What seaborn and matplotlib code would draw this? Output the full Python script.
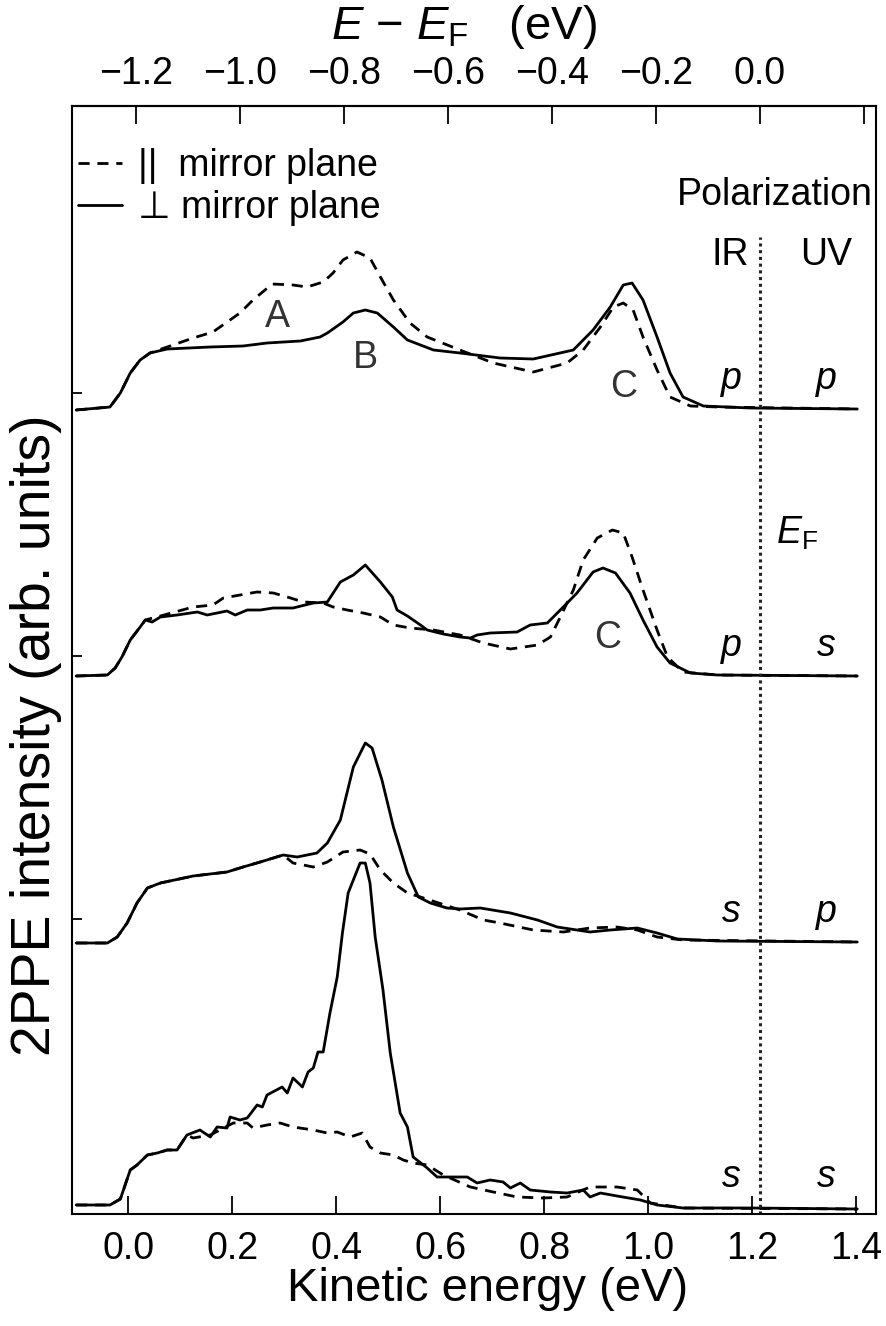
import numpy as np
import matplotlib
matplotlib.use("Agg")
import matplotlib.pyplot as plt
import seaborn as sns
from matplotlib.lines import Line2D

# ---------------- data (kinetic energy in eV, intensity in arb. units) ----------------
EF = 1.215  # kinetic energy of the Fermi level

# spectrum 1: IR p / UV p
pp_perp_x = [-0.100,-0.035,-0.015,0.004,0.023,0.042,0.075,0.158,0.221,0.267,0.331,0.369,0.383,0.413,0.433,
             0.456,0.479,0.510,0.537,0.587,0.638,0.715,0.779,0.856,0.894,0.927,0.952,0.969,0.990,1.017,
             1.042,1.067,1.106,1.196,1.402]
pp_perp_y = [-0.01,0.02,0.16,0.36,0.49,0.56,0.60,0.62,0.63,0.66,0.68,0.72,0.76,0.87,0.96,
             0.99,0.96,0.82,0.69,0.59,0.56,0.51,0.50,0.59,0.79,1.02,1.24,1.26,1.09,0.72,
             0.36,0.12,0.03,0.01,0.00]
pp_par_x = [-0.100,-0.035,-0.015,0.004,0.023,0.042,0.075,0.125,0.163,0.215,0.240,0.277,0.317,0.344,0.375,
            0.394,0.413,0.440,0.465,0.485,0.510,0.542,0.575,0.638,0.702,0.779,0.844,0.875,0.908,0.933,
            0.952,0.971,0.990,1.017,1.042,1.081,1.133,1.402]
pp_par_y = [-0.01,0.02,0.16,0.36,0.49,0.56,0.62,0.71,0.77,0.96,1.09,1.25,1.24,1.22,1.27,
            1.36,1.49,1.57,1.51,1.32,1.09,0.86,0.72,0.59,0.46,0.37,0.46,0.59,0.82,1.02,
            1.06,0.99,0.72,0.39,0.12,0.03,0.02,0.00]

# spectrum 2: IR p / UV s
ps_perp_x = [-0.100,-0.040,-0.025,-0.012,0.004,0.023,0.033,0.046,0.062,0.094,0.133,0.152,0.190,0.206,0.229,
             0.254,0.279,0.317,0.356,0.383,0.408,0.433,0.456,0.485,0.508,0.517,0.537,0.562,0.575,0.606,
             0.638,0.658,0.671,0.696,0.748,0.773,0.806,0.831,0.863,0.894,0.913,0.937,0.965,0.990,1.017,
             1.042,1.081,1.133,1.402]
ps_perp_y = [0.00,0.01,0.08,0.19,0.36,0.49,0.56,0.54,0.59,0.61,0.64,0.61,0.65,0.61,0.66,
             0.66,0.68,0.68,0.73,0.74,0.94,1.01,1.11,0.94,0.79,0.66,0.60,0.51,0.46,0.42,
             0.39,0.38,0.41,0.43,0.44,0.51,0.53,0.66,0.83,1.04,1.08,1.03,0.83,0.56,0.29,
             0.13,0.03,0.01,0.00]
ps_par_x = [-0.100,-0.040,-0.025,-0.012,0.004,0.023,0.033,0.062,0.125,0.163,0.183,0.215,0.248,0.279,0.306,
            0.337,0.375,0.394,0.421,0.452,0.485,0.510,0.542,0.587,0.638,0.683,0.735,0.787,0.812,0.831,
            0.856,0.875,0.902,0.931,0.952,0.969,0.990,1.017,1.037,1.067,1.133,1.402]
ps_par_y = [0.00,0.01,0.08,0.19,0.36,0.49,0.56,0.60,0.69,0.71,0.78,0.81,0.84,0.83,0.79,
            0.74,0.73,0.69,0.66,0.63,0.59,0.51,0.48,0.46,0.41,0.33,0.27,0.31,0.39,0.59,
            0.86,1.16,1.38,1.46,1.43,1.19,0.86,0.46,0.19,0.04,0.01,0.00]

# spectrum 3: IR s / UV p
sp_perp_x = [-0.100,-0.040,-0.021,-0.002,0.017,0.037,0.062,0.125,0.190,0.221,0.254,0.298,0.325,0.363,0.383,
             0.408,0.433,0.456,0.469,0.488,0.510,0.537,0.558,0.581,0.613,0.638,0.677,0.735,0.787,0.825,
             0.888,0.927,0.979,1.017,1.056,1.133,1.402]
sp_perp_y = [-0.01,-0.01,0.05,0.19,0.39,0.54,0.59,0.66,0.70,0.75,0.80,0.87,0.85,0.89,0.99,
             1.22,1.75,1.99,1.94,1.62,1.15,0.69,0.45,0.39,0.34,0.33,0.34,0.29,0.22,0.15,
             0.10,0.12,0.14,0.09,0.03,0.01,0.00]
sp_par_x = [-0.100,-0.040,-0.021,-0.002,0.017,0.037,0.062,0.125,0.190,0.221,0.254,0.298,0.317,0.356,0.383,
            0.413,0.446,0.465,0.485,0.510,0.537,0.562,0.638,0.683,0.715,0.779,0.837,0.888,0.940,0.979,
            1.017,1.067,1.402]
sp_par_y = [-0.01,-0.01,0.05,0.19,0.39,0.54,0.59,0.66,0.70,0.75,0.80,0.87,0.79,0.75,0.80,
            0.90,0.92,0.88,0.72,0.59,0.49,0.45,0.32,0.22,0.19,0.12,0.10,0.14,0.15,0.12,
            0.05,0.02,0.00]

# spectrum 4: IR s / UV s
ss_perp_x = [-0.100,-0.035,-0.015,0.004,0.017,0.037,0.056,0.075,0.094,0.113,0.138,0.158,0.171,0.190,0.196,
             0.215,0.229,0.248,0.258,0.267,0.296,0.306,0.317,0.335,0.346,0.356,0.365,0.375,0.388,0.402,
             0.412,0.423,0.446,0.456,0.465,0.475,0.490,0.504,0.523,0.537,0.548,0.575,0.594,0.613,0.652,
             0.671,0.696,0.721,0.735,0.754,0.773,0.812,0.844,0.875,0.888,0.908,0.940,0.985,1.017,1.067,
             1.196,1.402]
ss_perp_y = [0.02,0.02,0.08,0.37,0.42,0.52,0.54,0.57,0.57,0.72,0.77,0.70,0.80,0.79,0.90,
             0.87,0.89,1.02,1.00,1.12,1.20,1.14,1.29,1.20,1.35,1.39,1.55,1.55,1.94,2.30,
             2.74,3.14,3.44,3.44,3.24,2.70,2.17,1.54,0.94,0.80,0.50,0.39,0.30,0.30,0.30,
             0.24,0.27,0.25,0.19,0.24,0.17,0.15,0.14,0.17,0.10,0.14,0.11,0.07,0.02,-0.01,
             -0.01,-0.02]
ss_par_x = [-0.100,-0.035,-0.015,0.004,0.017,0.037,0.056,0.075,0.094,0.113,0.125,0.158,0.202,0.229,0.240,
            0.267,0.292,0.317,0.356,0.383,0.402,0.427,0.450,0.465,0.485,0.510,0.529,0.548,0.575,0.606,
            0.658,0.702,0.748,0.798,0.844,0.888,0.940,0.979,1.004,1.067,1.402]
ss_par_y = [0.02,0.02,0.08,0.37,0.42,0.52,0.54,0.57,0.57,0.72,0.69,0.72,0.84,0.84,0.79,
            0.82,0.84,0.80,0.77,0.74,0.75,0.70,0.74,0.60,0.54,0.52,0.47,0.44,0.42,0.32,
            0.20,0.15,0.10,0.09,0.10,0.20,0.20,0.17,0.04,-0.01,-0.02]

spectrum_offsets = [8.05, 5.38, 2.72, 0.07]
ir_pol = ["p", "p", "s", "s"]
uv_pol = ["p", "s", "p", "s"]

bottom_ticks = [0.0, 0.2, 0.4, 0.6, 0.8, 1.0, 1.2, 1.4]
top_ticks = [-1.2, -1.0, -0.8, -0.6, -0.4, -0.2, 0.0, 0.2]
top_tick_labels = ["\u22121.2", "\u22121.0", "\u22120.8", "\u22120.6", "\u22120.4", "\u22120.2", "0.0", ""]

# ---------------- style ----------------
sns.set_theme(style="white")
plt.rcParams["font.family"] = ["Liberation Sans", "DejaVu Sans"]
plt.rcParams["mathtext.fontset"] = "custom"
plt.rcParams["mathtext.rm"] = "Liberation Sans"
plt.rcParams["mathtext.it"] = "Liberation Sans:italic"
plt.rcParams["mathtext.bf"] = "Liberation Sans:bold"
for key in ["text.color", "axes.labelcolor", "xtick.color", "ytick.color", "axes.edgecolor"]:
    plt.rcParams[key] = "black"

W, H = 886, 1326
fig = plt.figure(figsize=(W / 100, H / 100), dpi=100)
ax = fig.add_axes([72 / W, (H - 1214) / H, 804 / W, 1108 / H])

LW = 2.0
DASH = (0, (4, 2.8))

pairs = [
    (pp_perp_x, pp_perp_y, pp_par_x, pp_par_y),
    (ps_perp_x, ps_perp_y, ps_par_x, ps_par_y),
    (sp_perp_x, sp_perp_y, sp_par_x, sp_par_y),
    (ss_perp_x, ss_perp_y, ss_par_x, ss_par_y),
]
for (px_, py_, dx_, dy_), off in zip(pairs, spectrum_offsets):
    sns.lineplot(x=dx_, y=np.array(dy_) + off, ax=ax, color="black", lw=LW,
                 linestyle=DASH, estimator=None, sort=False)
    sns.lineplot(x=px_, y=np.array(py_) + off, ax=ax, color="black", lw=LW,
                 estimator=None, sort=False)

ax.set_xlim(-0.108, 1.438)
ax.set_ylim(0, 11.08)

# Fermi level line
EF_LINE_TOP = 9.77
ax.vlines(EF, 0, EF_LINE_TOP, colors="#222222", linestyles=(0, (1, 1.2)), lw=2.2)

# axes styling
for s in ax.spines.values():
    s.set_color("black")
    s.set_linewidth(1.5)
ax.set_xticks(bottom_ticks)
ax.set_xticklabels([f"{t:.1f}" for t in bottom_ticks])
ax.tick_params(axis="x", direction="in", length=13, width=1.3, labelsize=27,
               bottom=True, pad=12, colors="black")
ax.set_yticks([2.95, 5.58, 8.21])
ax.tick_params(axis="y", direction="in", length=7, width=1.3, left=True,
               labelleft=False, right=False)
ax.set_xlabel("Kinetic energy (eV)", fontsize=34, labelpad=0)
ax.xaxis.label.set_x(0.517)
ax.set_ylabel("2PPE intensity (arb. units)", fontsize=40)
ax.yaxis.set_label_coords(-0.012, 0.432)

secax = ax.secondary_xaxis("top", functions=(lambda k: k - EF, lambda e: e + EF))
secax.set_xticks(top_ticks, labels=top_tick_labels)
secax.tick_params(axis="x", direction="in", length=13, width=1.3, labelsize=27,
                  top=True, pad=10, colors="black")
secax.spines["top"].set_linewidth(1.5)
secax.set_xlabel("$E$ \u2212 $E_{\\mathrm{F}}$   (eV)", fontsize=34, labelpad=12)
secax.xaxis.label.set_x(0.487)

# legend
handles = [Line2D([], [], color="black", lw=LW, linestyle=DASH),
           Line2D([], [], color="black", lw=LW)]
ax.legend(handles=handles, labels=["||  mirror plane", "\u22a5 mirror plane"],
          loc="upper left", bbox_to_anchor=(0.008, 0.962), frameon=False,
          fontsize=27, handlelength=1.15, handletextpad=0.45, labelspacing=0.15,
          borderpad=0, borderaxespad=0)

# annotations
TXT = 27
peak_color = "#333333"
ax.text(0.287, 8.97, "A", fontsize=TXT, ha="center", va="center", color=peak_color)
ax.text(0.456, 8.56, "B", fontsize=TXT, ha="center", va="center", color=peak_color)
ax.text(0.952, 8.27, "C", fontsize=TXT, ha="center", va="center", color=peak_color)
ax.text(0.921, 5.76, "C", fontsize=TXT, ha="center", va="center", color=peak_color)

ax.text(1.431, 10.19, "Polarization", fontsize=TXT, ha="right", va="center")
ax.text(1.158, 9.59, "IR", fontsize=TXT, ha="center", va="center")
ax.text(1.342, 9.59, "UV", fontsize=TXT, ha="center", va="center")
ax.text(1.245, 6.81, "$E_{\\mathrm{F}}$", fontsize=TXT, ha="left", va="center")

for off, ir, uv in zip(spectrum_offsets, ir_pol, uv_pol):
    ax.text(1.160, off + 0.30, ir, fontsize=TXT, ha="center", va="center", style="italic")
    ax.text(1.343, off + 0.30, uv, fontsize=TXT, ha="center", va="center", style="italic")

fig.savefig("out.png", dpi=100)
